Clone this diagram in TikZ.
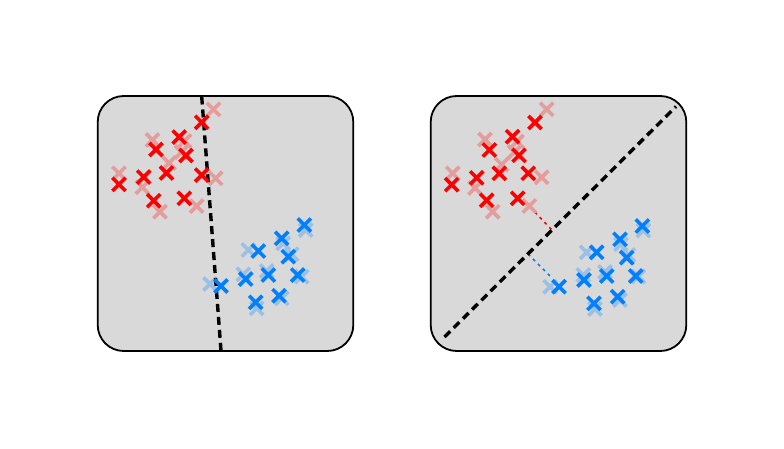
\documentclass[tikz,border=0pt]{standalone}
\definecolor{bg}{HTML}{D9D9D9}
\definecolor{myred}{HTML}{FF0000}
\definecolor{myblue}{HTML}{0080FF}
\colorlet{fadered}{myred!28!bg}
\colorlet{fadeblue}{myblue!28!bg}
\tikzset{
  panel/.style={draw=black,line width=1.8pt,fill=bg,rounded corners=26pt},
  xm/.pic={\draw[line width=3.6pt] (-6.6,-6.6)--(6.6,6.6) (-6.6,6.6)--(6.6,-6.6);},
  boundary/.style={draw=black,line width=3.4pt,dash pattern=on 8pt off 5pt},
  margin/.style={line width=1.6pt,dash pattern=on 3pt off 4pt},
}
\begin{document}
\begin{tikzpicture}[x=1pt,y=-1pt]
\useasboundingbox (0,0) rectangle (784,448);
% panels
\path[panel] (97.7,96) rectangle (353.3,351);
\path[panel] (430.7,96) rectangle (686.3,351);
% ---- left panel ----
\foreach \p in {(213.5,109.3),(152.5,140),(184.5,141),(181.5,152),(169,163),(119,173.3),(215.7,178.3),(142.3,187.3),(160,211.7),(196.7,206)}
  \pic[fadered] at \p {xm};
\foreach \p in {(305.7,230),(283.3,243.3),(248.3,250),(291.7,254.3),(266.7,271),(243.3,274.3),(301.7,276.7),(210,284),(256.7,308.3),(281.7,298.3)}
  \pic[fadeblue] at \p {xm};
\coordinate (lt) at (201.7,96.5);
\coordinate (lb) at (221,350.5);
\draw[boundary] (lt) -- (lb);
\foreach \p in {(201.7,122.3),(179.2,137),(156,149.5),(186,155.5),(166.5,173),(143.7,177),(201.7,175),(119,184.3),(153.7,200.7),(184.3,198.3)}
  \pic[myred] at \p {xm};
\foreach \p in {(304.3,225),(281.7,238.3),(258.3,251),(288.3,256.7),(268.3,275),(245.7,279),(297.7,275),(221,286),(255.7,302.3),(279,295.7)}
  \pic[myblue] at \p {xm};
% ---- right panel ----
\coordinate (rfr) at (530,207);
\coordinate (rfrfoot) at (552,230);
\coordinate (rfb) at (552,278);
\coordinate (rfbfoot) at (528,254);
\draw[margin,myred] (rfr) -- (rfrfoot);
\draw[margin,myblue] (rfbfoot) -- (rfb);
\foreach \p in {(546.7,109.3),(485,139.5),(517,141.5),(514.5,152),(501.7,164.5),(452.7,173.3),(541.7,177.3),(475,188),(492.7,211.7),(529.3,206)}
  \pic[fadered] at \p {xm};
\foreach \p in {(643.3,230.5),(621,244.3),(586.7,252.3),(628.3,255),(605,272),(583.3,275),(638.3,276.5),(550,286.7),(595,309),(620,300)}
  \pic[fadeblue] at \p {xm};
\coordinate (rb) at (444.5,337);
\coordinate (rt) at (676,106.5);
\draw[boundary] (rb) -- (rt);
\foreach \p in {(535,122.5),(512.5,136.7),(489.3,150),(519,155.3),(499.3,173.3),(476.7,177.8),(528.3,173.3),(451.7,184.7),(486.7,200.3),(517.7,198.3)}
  \pic[myred] at \p {xm};
\foreach \p in {(642.3,226),(620,239.3),(596.7,252.3),(626.7,257.7),(606.7,276),(584,280),(635.7,276),(559,286.7),(594,303.3),(617.7,296.7)}
  \pic[myblue] at \p {xm};
\end{tikzpicture}
\end{document}
